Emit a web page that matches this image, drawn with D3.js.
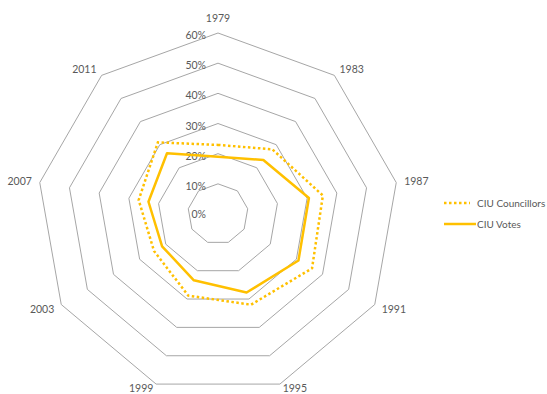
<!DOCTYPE html>
<html>
<head>
<meta charset="utf-8">
<script src="https://cdn.jsdelivr.net/npm/d3@7"></script>
<style>
  body { margin: 0; background: #fff; }
  svg text { font-family: Lato, "Open Sans", sans-serif; fill: #595959; }
</style>
</head>
<body>
<div id="chart"></div>
<script>
// Chart data
const years = ["1979", "1983", "1987", "1991", "1995", "1999", "2003", "2007", "2011"];
const councillors = [0.229, 0.28, 0.353, 0.36, 0.32, 0.288, 0.245, 0.267, 0.31];
const votes = [0.19, 0.234, 0.306, 0.308, 0.277, 0.234, 0.214, 0.234, 0.263];
const ringTicks = [0, 0.1, 0.2, 0.3, 0.4, 0.5, 0.6];
const seriesNames = ["CIU Councillors", "CIU Votes"];

const width = 547, height = 394;
const cx = 218, cy = 214, outer = 181;
const gold = "#FFC000";

const svg = d3.select("#chart").append("svg")
  .attr("width", width).attr("height", height);

// radial scale and angle per axis
const r = d3.scaleLinear().domain([0, 0.6]).range([0, outer]);
const angle = d3.scalePoint().domain(years).range([0, 2 * Math.PI * 8 / 9]);

function pt(year, v) {
  const a = angle(year);
  return [cx + r(v) * Math.sin(a), cy - r(v) * Math.cos(a)];
}

const closedLine = d3.line().curve(d3.curveLinearClosed);

// Rings
svg.append("g").selectAll("path").data(ringTicks).join("path")
  .attr("d", (t) => closedLine(years.map((y) => pt(y, t))))
  .attr("fill", "none")
  .attr("stroke", "#a6a6a6")
  .attr("stroke-width", 1);

// Ring labels
svg.append("g").selectAll("text").data(ringTicks).join("text")
  .attr("x", cx - 12)
  .attr("y", (t) => cy - r(t) + (t === 0 ? 0 : 2))
  .attr("text-anchor", "end")
  .attr("dominant-baseline", "central")
  .attr("font-size", 10.5)
  .text(d3.format(".0%"));

// Axis labels (bottom ones nudged up so they stay inside the frame)
svg.append("g").selectAll("text").data(years).join("text")
  .each(function (y) {
    const a = angle(y);
    const s = Math.sin(a), c = Math.cos(a);
    const rr = outer + 8;
    let ty = cy - rr * c;
    if (Math.abs(s) < 0.01) ty -= 7;
    ty = Math.min(ty, height - 6);
    d3.select(this)
      .attr("x", cx + rr * s)
      .attr("y", ty)
      .attr("text-anchor", Math.abs(s) < 0.01 ? "middle" : s > 0 ? "start" : "end");
  })
  .attr("dominant-baseline", "central")
  .attr("font-size", 10.5)
  .text((y) => y);

// Series
svg.append("path")
  .attr("d", closedLine(years.map((y, i) => pt(y, councillors[i]))))
  .attr("fill", "none")
  .attr("stroke", gold)
  .attr("stroke-width", 2.5)
  .attr("stroke-dasharray", "2.5 2.5");

svg.append("path")
  .attr("d", closedLine(years.map((y, i) => pt(y, votes[i]))))
  .attr("fill", "none")
  .attr("stroke", gold)
  .attr("stroke-width", 2.5)
  .attr("stroke-linejoin", "round");

// Legend
const legend = svg.append("g");
const legendRows = [
  { name: seriesNames[0], dash: "2.5 2.5", y: 203, x2: 470 },
  { name: seriesNames[1], dash: null, y: 224, x2: 476 },
];
legendRows.forEach((d) => {
  legend.append("line")
    .attr("x1", 444).attr("x2", d.x2)
    .attr("y1", d.y).attr("y2", d.y)
    .attr("stroke", gold).attr("stroke-width", 2.5)
    .attr("stroke-dasharray", d.dash);
  legend.append("text")
    .attr("x", 477).attr("y", d.y)
    .attr("dominant-baseline", "central")
    .attr("font-size", 10)
    .text(d.name);
});
</script>
</body>
</html>
